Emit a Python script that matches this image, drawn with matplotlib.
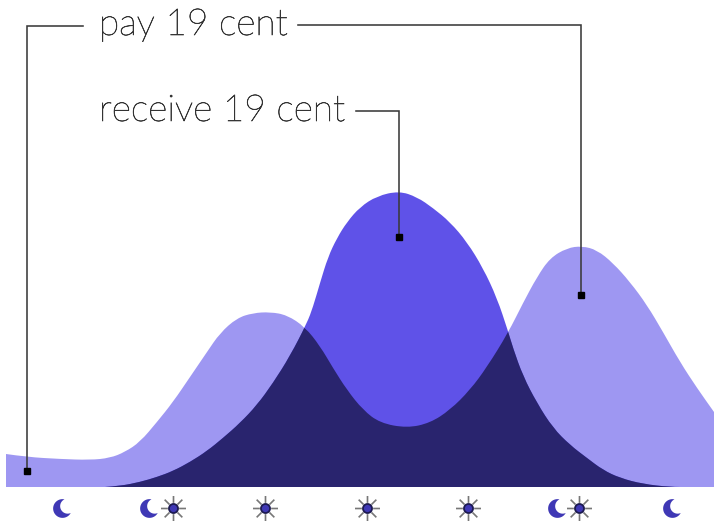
import numpy as np
import matplotlib
matplotlib.use("Agg")
import matplotlib.pyplot as plt
import matplotlib.patheffects as pe
from matplotlib.patches import PathPatch
from matplotlib.path import Path

# curves (x position, height above the baseline)
use_x = [6, 27, 60, 90, 110, 125, 140, 157, 173, 190, 207, 220, 237, 253, 270, 287, 305, 320, 333, 347, 363,
         380, 407, 430, 450, 470, 487, 508, 523, 537, 550, 567, 582, 597, 613, 630, 647, 663, 680, 697, 714]
use_h = [33, 30, 28, 27, 29, 35, 45, 65, 85, 110, 135, 154, 169, 174, 175, 172, 160, 141, 119, 97, 77,
         64, 59, 64, 77, 97, 120, 154, 184, 210, 229, 239, 241, 237, 224, 205, 182, 155, 125, 99, 75]
solar_x = [105, 120, 140, 157, 173, 190, 207, 223, 240, 257, 273, 290, 307, 313, 320, 328, 337, 347, 360, 377, 399,
           417, 433, 450, 467, 483, 497, 508, 513, 523, 537, 553, 570, 587, 603, 620, 643, 670, 690]
solar_h = [0, 1, 5, 10, 16, 25, 36, 49, 64, 82, 104, 131, 164, 180, 204, 230, 249, 265, 280, 291, 296,
           290, 279, 265, 245, 219, 189, 156, 139, 111, 84, 59, 42, 29, 17, 9, 3, 0, 0]

moon_x = [62, 149, 557, 672]
sun_x = [173, 265, 367, 468, 579]
icon_y = -21

LIGHT = "#9e97f2"
MID = "#5f52e8"
DARK = "#29246e"
INK = "#3a3a3a"


def area_path(x, h):
    # quadratic b-spline through the midpoints so the outline comes out round
    pts = np.column_stack([x, h])
    mids = (pts[:-1] + pts[1:]) / 2
    verts = [(x[0], 0), pts[0]]
    codes = [Path.MOVETO, Path.LINETO]
    for ctrl, end in zip(pts[1:-1], mids[1:]):
        verts += [ctrl, end]
        codes += [Path.CURVE3, Path.CURVE3]
    verts += [pts[-1], (x[-1], 0), (x[0], 0)]
    codes += [Path.LINETO, Path.LINETO, Path.CLOSEPOLY]
    return Path(verts, codes)


def moon_marker():
    phi, half = np.arctan2(0.25, 0.55), np.arccos(0.6)
    a = np.linspace(phi + half, phi - half + 2 * np.pi, 40)
    outer = np.column_stack([np.cos(a), np.sin(a)])
    b0 = np.arctan2(outer[-1, 1] - 0.25, outer[-1, 0] - 0.55)
    b1 = np.arctan2(outer[0, 1] - 0.25, outer[0, 0] - 0.55)
    b = np.linspace(b0 % (2 * np.pi), b1 % (2 * np.pi), 30)
    inner = np.column_stack([0.55 + 0.8 * np.cos(b), 0.25 + 0.8 * np.sin(b)])
    return Path(np.vstack([outer, inner, outer[:1]]), closed=True)


def ray_marker():
    verts, codes = [], []
    for t in np.arange(8) * np.pi / 4:
        verts += [(0.45 * np.cos(t), 0.45 * np.sin(t)), (np.cos(t), np.sin(t))]
        codes += [Path.MOVETO, Path.LINETO]
    return Path(verts, codes)


fig = plt.figure(figsize=(7.14, 5.22), dpi=100)
ax = fig.add_axes([0, 0, 1, 1])
ax.set_xlim(0, 714)
ax.set_ylim(-35, 487)
ax.axis("off")

use_patch = PathPatch(area_path(use_x, use_h), fc=LIGHT, ec="none")
ax.add_patch(use_patch)
ax.add_patch(PathPatch(area_path(solar_x, solar_h), fc=MID, ec="none"))
# overlap = solar area clipped to the usage area
overlap = PathPatch(area_path(solar_x, solar_h), fc=DARK, ec="none")
ax.add_patch(overlap)
overlap.set_clip_path(use_patch)

# leader lines
leaders = [([83, 27, 27], [461, 461, 16]),
           ([298, 581, 581], [462, 462, 192]),
           ([356, 399, 399], [376, 376, 250])]
for lx, ly in leaders:
    ax.plot(lx, ly, color=INK, lw=1.15, solid_joinstyle="miter")
    ax.plot(lx[-1], ly[-1], "s", color="black", ms=4.3)

thick = [pe.withStroke(linewidth=0.45, foreground="#333333")]
ax.text(99, 462, "pay 19 cent", fontsize=26.7, family="Lato", weight="light", color="#333333",
        va="center", path_effects=thick)
ax.text(99, 376, "receive 19 cent", fontsize=26.7, family="Lato", weight="light", color="#333333",
        va="center", path_effects=thick)

# day/night icons
ax.plot(moon_x, [icon_y] * len(moon_x), ls="none", marker=moon_marker(), ms=13.5, mfc="#3f38b5", mec="none")
ax.plot(sun_x, [icon_y] * len(sun_x), ls="none", marker=ray_marker(), ms=18, mfc="none", mec="#777777", mew=1.2)
ax.plot(sun_x, [icon_y] * len(sun_x), ls="none", marker="o", ms=6.5, mfc="#3f38b5", mec="#1c1a50", mew=1.3)

fig.savefig("out.png", dpi=100)
